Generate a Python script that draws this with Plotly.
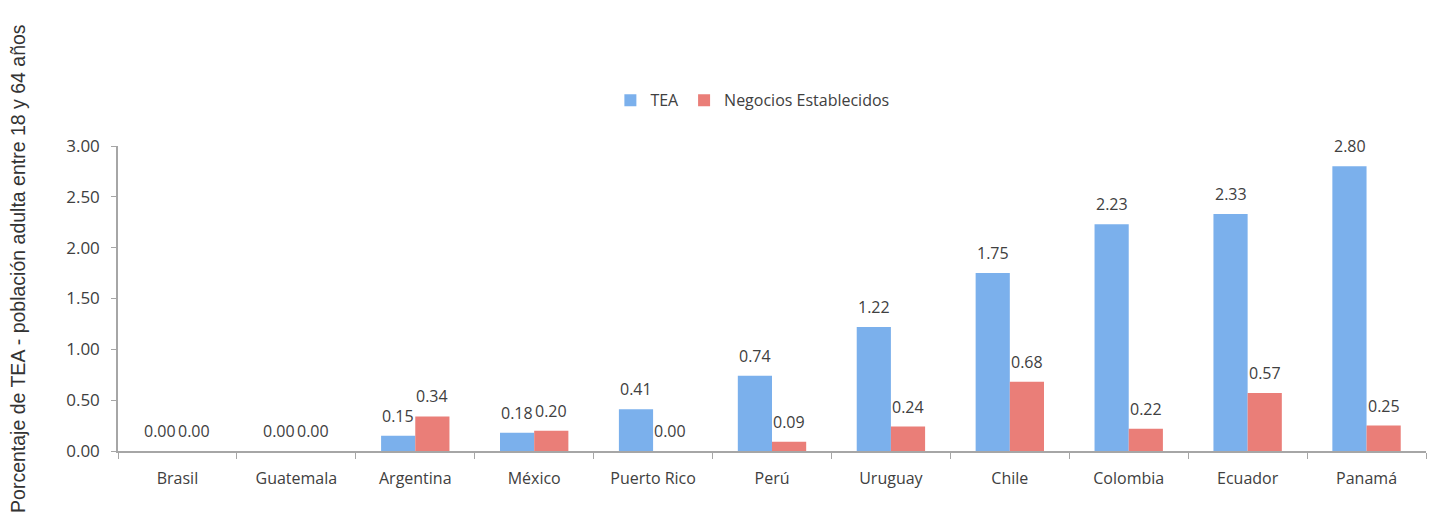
import plotly.graph_objects as go

countries = ["Brasil", "Guatemala", "Argentina", "México", "Puerto Rico", "Perú",
             "Uruguay", "Chile", "Colombia", "Ecuador", "Panamá"]
tea = [0.00, 0.00, 0.15, 0.18, 0.41, 0.74, 1.22, 1.75, 2.23, 2.33, 2.80]
negocios = [0.00, 0.00, 0.34, 0.20, 0.00, 0.09, 0.24, 0.68, 0.22, 0.57, 0.25]
y_ticks = [0, 0.5, 1, 1.5, 2, 2.5, 3]

FONT = "Open Sans"
TXT = "#404040"
BLUE = "#7bb0ec"
RED = "#ea7e78"

fig = go.Figure()
fig.add_trace(go.Bar(x=countries, y=tea, name="TEA",
                     marker=dict(color=BLUE, line=dict(width=0))))
fig.add_trace(go.Bar(x=countries, y=negocios, name="Negocios Establecidos",
                     marker=dict(color=RED, line=dict(width=0))))

annotations = []
for series, shift in ((tea, -17), (negocios, 17)):
    for c, v in zip(countries, series):
        annotations.append(dict(
            x=c, y=v, xref="x", yref="y", text=f"{v:.2f}", showarrow=False,
            xanchor="center", yanchor="bottom", xshift=shift, yshift=7,
            font=dict(family=FONT, size=16, color=TXT)))

annotations.append(dict(
    text="Porcentaje de TEA - población adulta entre 18 y 64 años",
    xref="paper", yref="paper", x=-0.0765, y=0.60,
    xanchor="center", yanchor="middle", textangle=-90, showarrow=False,
    font=dict(family="Liberation Sans", size=19.5, color="#333333")))

fig.update_layout(
    width=1430, height=515,
    margin=dict(l=110, r=12, t=138, b=72),
    paper_bgcolor="white", plot_bgcolor="white",
    barmode="group", bargap=0.425, bargroupgap=0,
    font=dict(family=FONT, size=14, color=TXT),
    showlegend=True,
    legend=dict(orientation="h", x=0.485, xanchor="center", y=1.15, yanchor="middle",
                font=dict(family=FONT, size=16, color=TXT),
                itemwidth=30, traceorder="normal"),
    xaxis=dict(showline=True, linecolor="#a6a6a6", linewidth=1.5,
               ticks="outside", tickson="boundaries", ticklen=6, tickcolor="#a6a6a6",
               ticklabelstandoff=12,
               tickfont=dict(family=FONT, size=16, color=TXT), showgrid=False),
    yaxis=dict(range=[0, 3], tickvals=y_ticks, tickformat=".2f",
               showline=True, linecolor="#a6a6a6", linewidth=1.5,
               ticks="outside", ticklen=5, tickcolor="#a6a6a6",
               ticklabelstandoff=8,
               tickfont=dict(family=FONT, size=17, color=TXT),
               showgrid=False, zeroline=False),
    annotations=annotations,
)

fig.write_html("out.html")
